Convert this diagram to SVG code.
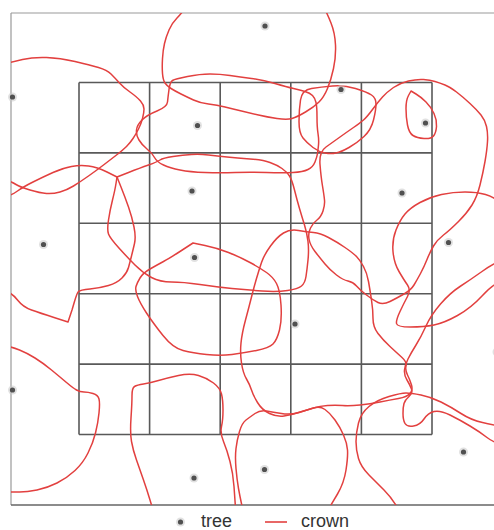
<svg xmlns="http://www.w3.org/2000/svg" width="494" height="530" viewBox="0 0 494 530">
<style>
.frame{stroke:#9a9a9a;stroke-width:1.2;fill:none}
.frameb{stroke:#666;stroke-width:1.4;fill:none}
.grid{stroke:#3c3c3c;stroke-width:1.6;fill:none;stroke-opacity:0.85}
.crown{stroke:#e2403f;stroke-width:1.5;fill:none;stroke-linejoin:round;stroke-linecap:round}
.halo{fill:#c8c8c8;fill-opacity:0.55}
.core{fill:#505050}
.lbl{font-family:"Liberation Sans",Arial,sans-serif;font-size:18px;fill:#333}
</style>
<defs>
<clipPath id="plot"><rect x="11" y="13" width="483" height="492"/></clipPath>
<g id="dot"><circle r="4.5" class="halo"/><circle r="2.6" class="core"/></g>
</defs>
<rect width="494" height="530" fill="#fff"/>
<g id="frame">
<path class="frame" d="M11,13 H494 M11,13 V505"/>
<path class="frameb" d="M11,505 H494"/>
</g>
<g id="grid">
<path class="grid" d="M79,82.5 V434.5 M149.6,82.5 V434.5 M220.2,82.5 V434.5 M290.8,82.5 V434.5 M361.4,82.5 V434.5 M432,82.5 V434.5 M79,82.5 H432 M79,152.9 H432 M79,223.3 H432 M79,293.7 H432 M79,364.1 H432 M79,434.5 H432"/>
</g>
<g id="crowns" clip-path="url(#plot)">
<path id="c1" class="crown" d="M190,0 L186,6.5 Q182,13 177,18 Q172,23 169,30 Q166,37 164.5,43.5 Q163,50 162.5,58.5 Q162,67 162.5,73.5 Q163,80 165,83 Q167,86 171,88.5 Q175,91 181,94 Q187,97 193.5,100 Q200,103 208.5,104 Q217,105 225,107 Q233,109 241.5,111 Q250,113 258.5,115 Q267,117 277,118.5 Q287,120 292,118.5 Q297,117 305.5,112 Q314,107 319,102 Q324,97 327.5,88.5 Q331,80 333.5,68.5 Q336,57 335.5,45 Q335,33 331,23 Q327,13 323.5,6.5 L320,0"/>
<path id="c2" class="crown" d="M0,65 L6,63.5 Q12,62 22.5,59.5 Q33,57 46.5,57.5 Q60,58 75,61.5 Q90,65 98.5,67.5 Q107,70 111,74 Q115,78 119,82.5 Q123,87 130,92 Q137,97 140.5,101 Q144,105 144,109 Q144,113 142.5,118.5 Q141,124 138.5,129 Q136,134 133,138.5 Q130,143 126.5,146.5 Q123,150 116.5,155 Q110,160 103.5,165 Q97,170 88.5,176 Q80,182 73.5,186 Q67,190 60,192 Q53,194 46.5,193.5 Q40,193 30,190 Q20,187 16,184.5 Q12,182 6,180 L0,178"/>
<path id="c3" class="crown" d="M169,89.5 Q170,82 172.5,80.5 Q175,79 187.5,76.5 Q200,74 210,74 Q220,74 230,75.5 Q240,77 251.5,78.5 Q263,80 275,83.5 Q287,87 293.5,88.5 Q300,90 305,91.5 Q310,93 312.5,95.5 Q315,98 316,102.5 Q317,107 317,117 Q317,127 318,133.5 Q319,140 318.5,145 Q318,150 317.5,153.5 Q317,157 315,162 Q313,167 308,169.5 Q303,172 293,172.5 Q283,173 266.5,172.5 Q250,172 235,172.5 Q220,173 205,172.5 Q190,172 180,170 Q170,168 163.5,165 Q157,162 154.5,157.5 Q152,153 147,149 Q142,145 139,140 Q136,135 136.5,130 Q137,125 142,120 Q147,115 157,111 Q167,107 167.5,102 Q168,97 169,89.5 Z"/>
<path id="c4" class="crown" d="M300.5,100 Q302,90 311.5,88.5 Q321,87 332.5,86 Q344,85 355.5,88.5 Q367,92 371.5,95 Q376,98 376,104 Q376,110 373.5,120 Q371,130 364,136.5 Q357,143 349,147.5 Q341,152 336,153 Q331,154 325,153 Q319,152 313,147.5 Q307,143 303,138 Q299,133 299,121.5 Q299,110 300.5,100 Z"/>
<path id="c5" class="crown" d="M411,91 L416,94 Q421,97 426,102 Q431,107 434,113.5 Q437,120 436.5,126.5 Q436,133 433.5,136 Q431,139 424,138.5 Q417,138 413,135.5 Q409,133 407.5,125 Q406,117 406,108.5 Q406,100 408.5,95.5 L411,91 Z"/>
<path id="c6" class="crown" d="M117,177 L128.5,172.5 Q140,168 148.5,165 Q157,162 160,160 Q163,158 173,156.5 Q183,155 191.5,154.5 Q200,154 208.5,155 Q217,156 227,157 Q237,158 250,159 Q263,160 270,162.5 Q277,165 282,168.5 Q287,172 289.5,176 Q292,180 294.5,190 Q297,200 299.5,208.5 Q302,217 304.5,225 Q307,233 308,241.5 Q309,250 308,260 Q307,270 306,276.5 Q305,283 301.5,286 Q298,289 287.5,290.5 Q277,292 262,291 Q247,290 232,288.5 Q217,287 200,284.5 Q183,282 171.5,282 Q160,282 151.5,277.5 Q143,273 135,265 Q127,257 118.5,247.5 Q110,238 108.5,234 Q107,230 108.5,220 Q110,210 112.5,200 Q115,190 116,183.5 L117,177 Z"/>
<path id="c7" class="crown" d="M320,164.5 Q319,152 326,147 Q333,142 340,137 Q347,132 353.5,127.5 Q360,123 363.5,120 Q367,117 372.5,109.5 Q378,102 382.5,97 Q387,92 393.5,87.5 Q400,83 408.5,81 Q417,79 423.5,79.5 Q430,80 435,81.5 Q440,83 445,85 Q450,87 456.5,92 Q463,97 470,103.5 Q477,110 481,115 Q485,120 486.5,126.5 Q488,133 487.5,141.5 Q487,150 485,161.5 Q483,173 480,185 Q477,197 472,205 Q467,213 458.5,221.5 Q450,230 443.5,235 Q437,240 433.5,246 Q430,252 427,259.5 Q424,267 420.5,273.5 Q417,280 414,285 Q411,290 404,294 Q397,298 390,301.5 Q383,305 378,302.5 Q373,300 366.5,295 Q360,290 356.5,286 Q353,282 348,281 Q343,280 336.5,275 Q330,270 325,264 Q320,258 315,251.5 Q310,245 309,239 Q308,233 310.5,228 Q313,223 317,220 Q321,217 323,211 Q325,205 324.5,200 Q324,195 322.5,186 Q321,177 320,164.5 Z"/>
<path id="c8" class="crown" d="M117,177 L121,187 Q125,197 128.5,207 Q132,217 134,227 Q136,237 134.5,243.5 Q133,250 131.5,256 Q130,262 128.5,267.5 Q127,273 122,278 Q117,283 108.5,285.5 Q100,288 90,289 Q80,290 78.5,291.5 Q77,293 74.5,301.5 L72,310 L68,322 L54,317.5 Q40,313 31.5,310 Q23,307 17.5,300 Q12,293 6,291.5 L0,290 L0,198 L6,196.5 Q12,195 17.5,191 Q23,187 33,182 Q43,177 53,172.5 Q63,168 71.5,166.5 Q80,165 88.5,166 Q97,167 107,172 L117,177 Z"/>
<path id="c9" class="crown" d="M393,251.5 Q392,240 396,230 Q400,220 405,214 Q410,208 420,202.5 Q430,197 441.5,194.5 Q453,192 465,192 Q477,192 485.5,194.5 Q494,197 502,203.5 L510,210 L510,280 L502,281.5 Q494,283 482.5,295.5 Q471,308 457.5,315.5 Q444,323 434,325 Q424,327 410.5,327 Q397,327 396.5,323.5 Q396,320 400,311.5 Q404,303 407.5,296.5 Q411,290 407.5,285 Q404,280 399,271.5 Q394,263 393,251.5 Z"/>
<path id="c10" class="crown" d="M193,243 L205,245.5 Q217,248 228.5,252.5 Q240,257 250,262.5 Q260,268 266.5,272.5 Q273,277 276.5,283.5 Q280,290 281,305 Q282,320 279.5,330 Q277,340 273,344 Q269,348 256.5,350.5 Q244,353 232,354.5 Q220,356 206.5,354.5 Q193,353 183,350.5 Q173,348 163,335.5 Q153,323 146.5,313 Q140,303 137.5,296.5 Q135,290 136,286.5 Q137,283 140,278 Q143,273 150,269 Q157,265 163.5,261.5 Q170,258 181.5,250.5 L193,243 Z"/>
<path id="c11" class="crown" d="M270.5,246 Q277,237 283.5,233 Q290,229 298.5,230.5 Q307,232 313.5,232.5 Q320,233 328.5,237.5 Q337,242 345,247.5 Q353,253 356.5,256.5 Q360,260 363.5,266.5 Q367,273 368.5,281.5 Q370,290 371.5,300 Q373,310 373,318.5 Q373,327 378,333.5 Q383,340 390,346.5 Q397,353 402,357.5 Q407,362 406,366 Q405,370 407.5,375 Q410,380 411.5,385 Q413,390 410,393.5 Q407,397 398.5,398.5 Q390,400 380,402 Q370,404 360,405 Q350,406 342.5,405.5 Q335,405 327.5,405.5 Q320,406 313.5,408 Q307,410 299,412.5 Q291,415 284,416 Q277,417 269.5,413.5 Q262,410 257.5,402.5 Q253,395 251.5,390 Q250,385 246.5,379 Q243,373 241.5,363 Q240,353 241,343 Q242,333 245.5,320 Q249,307 251.5,297 Q254,287 256.5,278.5 Q259,270 261.5,262.5 Q264,255 270.5,246 Z"/>
<path id="c12" class="crown" d="M0,345 L6,346 Q12,347 19.5,350 Q27,353 35,358 Q43,363 51.5,370 Q60,377 66.5,382.5 Q73,388 76.5,390 Q80,392 84,392 Q88,392 93,393.5 Q98,395 99,399 Q100,403 99,413 Q98,423 95.5,433 Q93,443 88,453 Q83,463 75,470.5 Q67,478 57,483 Q47,488 37,490 Q27,492 19.5,492 Q12,492 6,492 L0,492"/>
<path id="c13" class="crown" d="M153,510 L150,500 Q147,490 143.5,480 Q140,470 136.5,460 Q133,450 131.5,441.5 Q130,433 131,418 Q132,403 132,395.5 Q132,388 134.5,386.5 Q137,385 143.5,384 Q150,383 158.5,380.5 Q167,378 178.5,375.5 Q190,373 198.5,375.5 Q207,378 213.5,383 Q220,388 221.5,394 Q223,400 223,410 Q223,420 221.5,426.5 Q220,433 223.5,441.5 Q227,450 230,461.5 Q233,473 234,486.5 Q235,500 236,515"/>
<path id="c14" class="crown" d="M244,515 L242,506 Q240,497 238.5,488.5 Q237,480 236,468.5 Q235,457 236,448.5 Q237,440 239.5,431.5 Q242,423 246,420 Q250,417 255,413.5 Q260,410 266.5,411 Q273,412 281.5,413.5 Q290,415 298.5,412.5 Q307,410 313.5,408 Q320,406 325,409.5 Q330,413 335,420 Q340,427 343.5,435 Q347,443 347.5,450 Q348,457 346,470 Q344,483 337.5,494 Q331,505 325,515"/>
<path id="c15" class="crown" d="M402,515 L396.5,506 Q391,497 384,490 Q377,483 369,475 Q361,467 358.5,458.5 Q356,450 356,441.5 Q356,433 358.5,423 Q361,413 369,406.5 Q377,400 389,396.5 Q401,393 406,393 Q411,393 421,395 Q431,397 441,402 Q451,407 461,413.5 Q471,420 482.5,422.5 Q494,425 515,430"/>
<path id="c16" class="crown" d="M515,255 L504.5,259 Q494,263 482,271.5 Q470,280 460,286.5 Q450,293 440.5,304 Q431,315 426,326 Q421,337 416,345 Q411,353 408,359 Q405,365 404.5,370 Q404,375 407,380 Q410,385 411.5,389 Q413,393 409,396.5 Q405,400 404,403.5 Q403,407 403,413.5 Q403,420 405,423.5 Q407,427 413.5,426 Q420,425 424,419 Q428,413 434,411.5 Q440,410 450,415 Q460,420 470,426 Q480,432 487,437.5 Q494,443 515,450"/>
</g>
<g id="trees">
<use href="#dot" x="265" y="26"/>
<use href="#dot" x="12.5" y="97"/>
<use href="#dot" x="197.5" y="125.5"/>
<use href="#dot" x="341" y="89.5"/>
<use href="#dot" x="425.5" y="123"/>
<use href="#dot" x="192" y="191"/>
<use href="#dot" x="402" y="193"/>
<use href="#dot" x="43.5" y="244.5"/>
<use href="#dot" x="448.5" y="242.5"/>
<use href="#dot" x="194.5" y="257.5"/>
<use href="#dot" x="295" y="324"/>
<use href="#dot" x="12.5" y="390"/>
<use href="#dot" x="194" y="478"/>
<use href="#dot" x="264.5" y="469.5"/>
<use href="#dot" x="463.5" y="452"/>
<use href="#dot" x="497" y="352"/>
</g>
<g id="legend">
<use href="#dot" x="180.5" y="522"/>
<text class="lbl" x="201" y="526.5">tree</text>
<path d="M265,522 H287" stroke="#e2403f" stroke-width="1.6"/>
<text class="lbl" x="301" y="526.5">crown</text>
</g>
</svg>
